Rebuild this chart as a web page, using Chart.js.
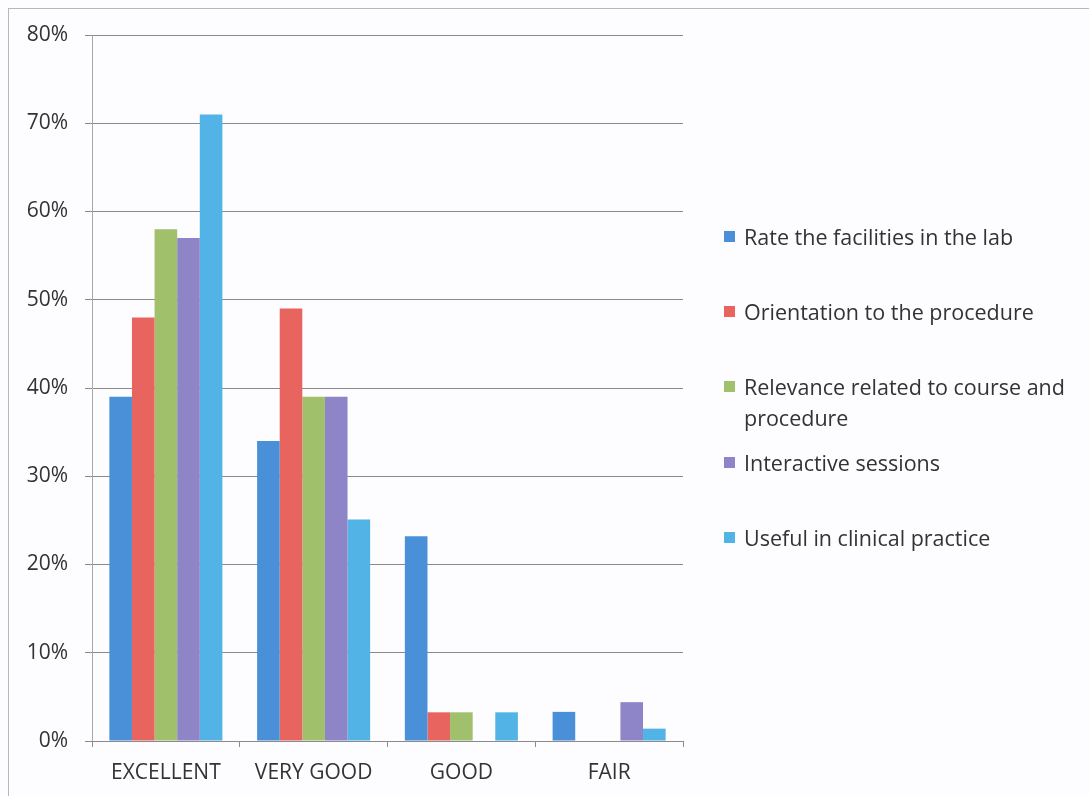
<!DOCTYPE html>
<html>
<head>
<meta charset="utf-8">
<script src="https://cdn.jsdelivr.net/npm/chart.js@4"></script>
<style>
    html, body { margin: 0; padding: 0; background: #fdfcfe; }
    #wrap { position: relative; width: 1089px; height: 796px; }
    #frame { position: absolute; left: 8px; top: 8px; width: 1200px; height: 900px;
             border-left: 1px solid #b8b8bc; border-top: 1px solid #b8b8bc; }
    #legend { position: absolute; left: 724px; top: 0; font-family: "Open Sans", sans-serif;
              font-size: 21.5px; color: #333; }
    .item { position: absolute; left: 0; width: 370px; line-height: 31px; padding-left: 20px; white-space: nowrap; }
    .box { position: absolute; left: 0; top: 10px; width: 11px; height: 11px; }
</style>
</head>
<body>
<div id="wrap">
    <div id="frame"></div>
    <canvas id="surveyChart" width="1089" height="796"></canvas>
    <div id="legend"></div>
</div>
<script>
// Survey rating categories
const CATEGORIES = ['EXCELLENT', 'VERY GOOD', 'GOOD', 'FAIR'];

// Percent of respondents per rating
const FACILITIES = [39, 34, 23.2, 3.3];
const ORIENTATION = [48, 49, 3.25, 0];
const RELEVANCE = [58, 39, 3.25, 0];
const INTERACTIVE = [57, 39, 0, 4.4];
const CLINICAL = [71, 25.1, 3.25, 1.4];

const SERIES_NAMES = [
    'Rate the facilities in the lab',
    'Orientation to the procedure',
    'Relevance related to course and procedure',
    'Interactive sessions',
    'Useful in clinical practice'
];

const Y_TICKS = [0, 10, 20, 30, 40, 50, 60, 70, 80];

const COLORS = ['#4a90d8', '#e8645e', '#a0c06c', '#8e84c8', '#52b4e6'];

// legend rows (top of each row, px) - third label wraps
const LEGEND_TOP = [221, 296, 371, 447, 522];

const seriesData = [FACILITIES, ORIENTATION, RELEVANCE, INTERACTIVE, CLINICAL];

const ctx = document.getElementById('surveyChart');

new Chart(ctx.getContext('2d'), {
    type: 'bar',
    data: {
        labels: CATEGORIES,
        datasets: seriesData.map((values, i) => ({
            label: SERIES_NAMES[i],
            data: values,
            backgroundColor: COLORS[i],
            borderWidth: 0,
            barPercentage: 1,
            categoryPercentage: 0.765
        }))
    },
    options: {
        responsive: false,
        animation: false,
        layout: {
            padding: { top: 35, right: 406, left: 0, bottom: 0 }
        },
        plugins: {
            legend: { display: false },
            tooltip: { enabled: false }
        },
        scales: {
            y: {
                min: 0,
                max: 80,
                afterFit: function(scale) { scale.width = 92; },
                afterBuildTicks: function(scale) {
                    scale.ticks = Y_TICKS.map(v => ({ value: v }));
                },
                ticks: {
                    padding: 17,
                    color: '#333',
                    font: { family: 'Open Sans', size: 21 },
                    callback: v => v + '%'
                },
                grid: {
                    color: '#8a8a8e',
                    lineWidth: 1,
                    tickLength: 7
                },
                border: { color: '#a8a8ac', width: 1 }
            },
            x: {
                afterFit: function(scale) { scale.height = 55; },
                ticks: {
                    padding: 13,
                    color: '#333',
                    font: { family: 'Open Sans', size: 21 }
                },
                grid: {
                    offset: true,
                    drawOnChartArea: false,
                    color: '#8a8a8e',
                    tickLength: 6
                },
                border: { color: '#8a8a8e', width: 1 }
            }
        }
    }
});

// HTML legend on the right
const legend = document.getElementById('legend');
SERIES_NAMES.forEach((name, i) => {
    const item = document.createElement('div');
    item.className = 'item';
    item.style.top = LEGEND_TOP[i] + 'px';
    item.innerHTML = '<span class="box" style="background:' + COLORS[i] + '"></span>' +
        (i === 2 ? 'Relevance related to course and<br>procedure' : name);
    legend.appendChild(item);
});
</script>
</body>
</html>
